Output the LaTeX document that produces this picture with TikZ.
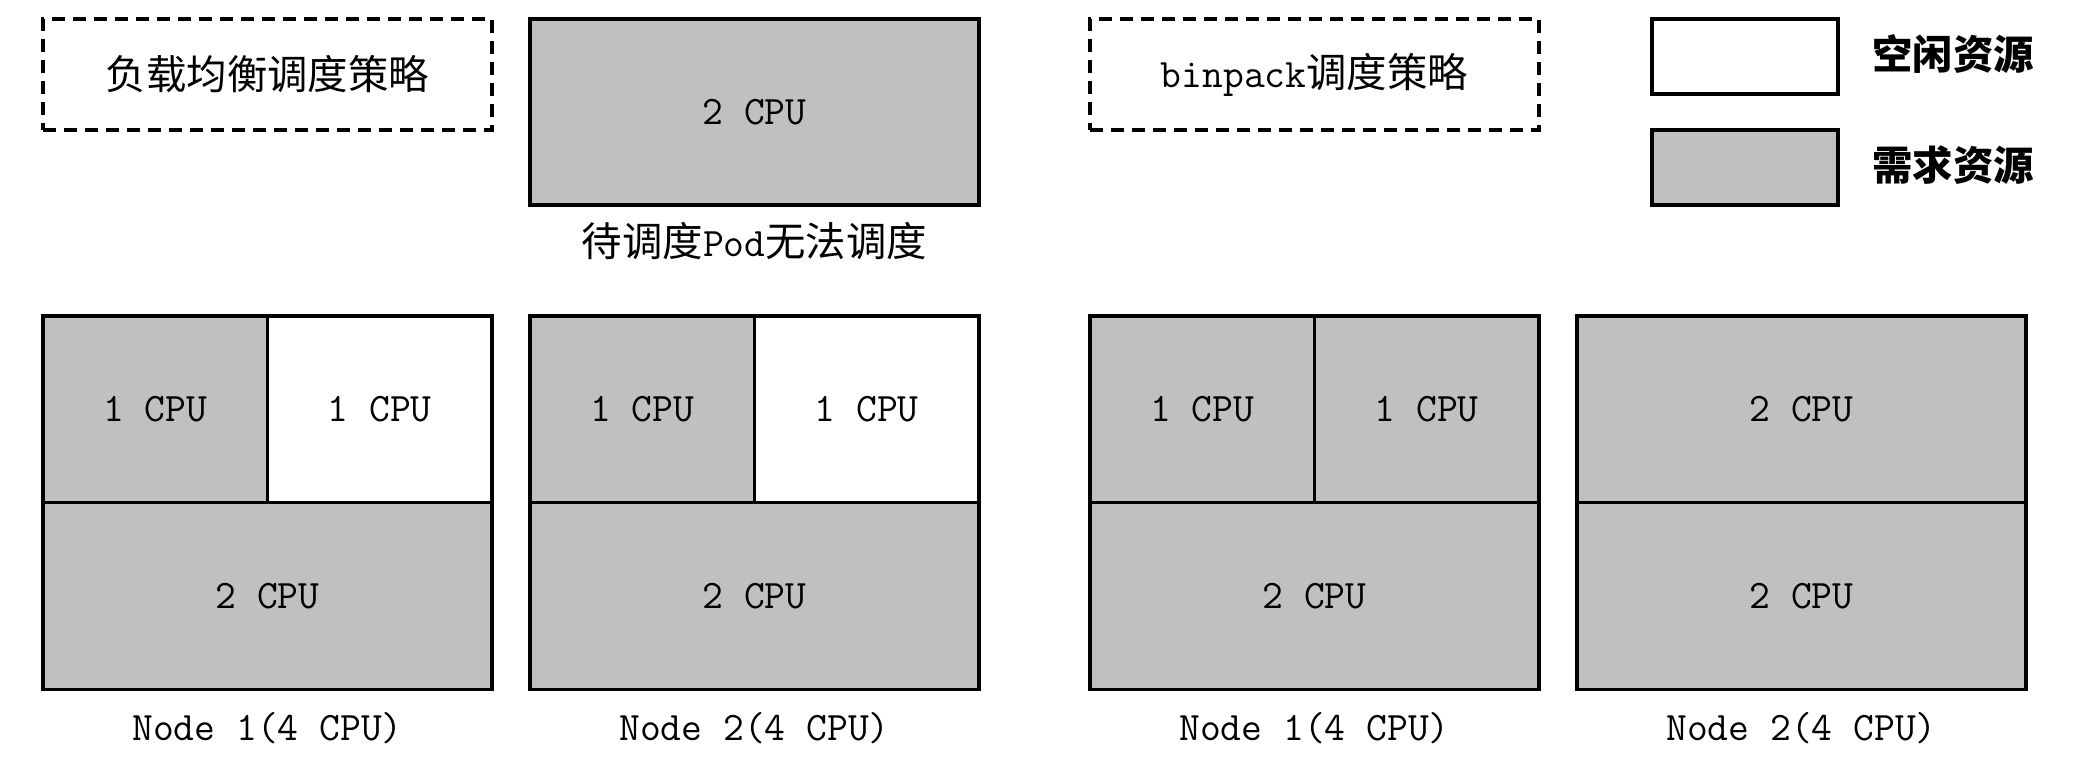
\documentclass[tikz,border=0pt]{standalone}
\usepackage{fontspec}
\newfontfamily\cjk{Noto Sans CJK SC}
\definecolor{reqgray}{HTML}{C0C0C0}

\begin{document}
\begin{tikzpicture}[
    font=\ttfamily\fontsize{11.5}{14}\selectfont,
    free/.style={rectangle, draw, line width=1pt, fill=white, inner sep=0pt},
    used/.style={rectangle, draw, line width=1pt, fill=reqgray, inner sep=0pt},
    half/.style={minimum width=2.245cm, minimum height=1.87cm},
    whole/.style={minimum width=4.49cm, minimum height=1.87cm},
    legend/.style={minimum width=1.86cm, minimum height=0.75cm},
    policy/.style={rectangle, draw, line width=1pt, dash pattern=on 1.3mm off 0.8mm,
      minimum width=4.49cm, minimum height=1.11cm}
  ]
    \useasboundingbox (0, 0) rectangle (21, 7.6);

    % 调度策略
    \node[policy] (LB) at (2.675, 6.855) {\cjk 负载均衡调度策略};
    \node[policy] (BP) at (13.145, 6.855) {binpack{\cjk 调度策略}};

    % 待调度Pod
    \node[used, whole, minimum height=1.86cm] (pod) at (7.545, 6.48) {2 CPU};
    \node (podlabel) at (7.545, 5.19) {{\cjk 待调度}Pod{\cjk 无法调度}};

    % 图例
    \node[free, legend] (freebox) at (17.45, 7.035) {};
    \node[used, legend] (usedbox) at (17.45, 5.925) {};
    \node (freetext) at (19.53, 7.06) {\cjk\bfseries 空闲资源};
    \node (usedtext) at (19.53, 5.95) {\cjk\bfseries 需求资源};

    % 负载均衡: Node 1
    \node[used, half] (N1L) at (1.5525, 3.505) {1 CPU};
    \node[free, half] (N1R) at (3.7975, 3.505) {1 CPU};
    \node[used, whole] (N1B) at (2.675, 1.64) {2 CPU};
    % 负载均衡: Node 2
    \node[used, half] (N2L) at (6.4225, 3.505) {1 CPU};
    \node[free, half] (N2R) at (8.6675, 3.505) {1 CPU};
    \node[used, whole] (N2B) at (7.545, 1.64) {2 CPU};
    % binpack: Node 1
    \node[used, half] (N3L) at (12.0225, 3.505) {1 CPU};
    \node[used, half] (N3R) at (14.2675, 3.505) {1 CPU};
    \node[used, whole] (N3B) at (13.145, 1.64) {2 CPU};
    % binpack: Node 2
    \node[used, whole] (N4T) at (18.015, 3.505) {2 CPU};
    \node[used, whole] (N4B) at (18.015, 1.64) {2 CPU};

    % 节点名
    \node (N1name) at (2.675, 0.32) {Node 1(4 CPU)};
    \node (N2name) at (7.545, 0.32) {Node 2(4 CPU)};
    \node (N3name) at (13.145, 0.32) {Node 1(4 CPU)};
    \node (N4name) at (18.015, 0.32) {Node 2(4 CPU)};
  \end{tikzpicture}
\end{document}
